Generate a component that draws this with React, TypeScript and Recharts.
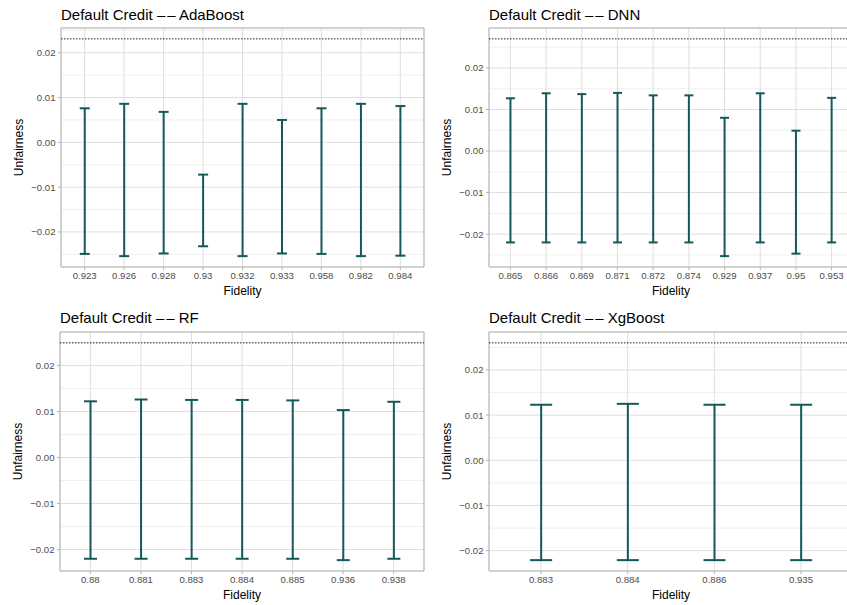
import React from "react";
import {
  ComposedChart,
  Bar,
  XAxis,
  YAxis,
  CartesianGrid,
  ReferenceLine,
  ReferenceArea,
} from "recharts";

// ─── data ───
const adaFidelity = ["0.923", "0.926", "0.928", "0.93", "0.932", "0.933", "0.958", "0.982", "0.984"];
const adaLow = [-0.0249, -0.0254, -0.0248, -0.0232, -0.0254, -0.0248, -0.0249, -0.0254, -0.0253];
const adaHigh = [0.0076, 0.0086, 0.0068, -0.0072, 0.0086, 0.005, 0.0076, 0.0086, 0.0081];
const adaBaseline = 0.0231;

const dnnFidelity = ["0.865", "0.866", "0.869", "0.871", "0.872", "0.874", "0.929", "0.937", "0.95", "0.953"];
const dnnLow = [-0.022, -0.022, -0.022, -0.022, -0.022, -0.022, -0.0253, -0.022, -0.0247, -0.022];
const dnnHigh = [0.0127, 0.0139, 0.0137, 0.014, 0.0134, 0.0134, 0.008, 0.0139, 0.0049, 0.0128];
const dnnBaseline = 0.027;

const rfFidelity = ["0.88", "0.881", "0.883", "0.884", "0.885", "0.936", "0.938"];
const rfLow = [-0.022, -0.022, -0.022, -0.022, -0.022, -0.0223, -0.022];
const rfHigh = [0.0122, 0.0126, 0.0125, 0.0125, 0.0124, 0.0103, 0.0121];
const rfBaseline = 0.0249;

const xgbFidelity = ["0.883", "0.884", "0.886", "0.935"];
const xgbLow = [-0.0221, -0.0221, -0.0221, -0.0221];
const xgbHigh = [0.0123, 0.0125, 0.0123, 0.0123];
const xgbBaseline = 0.026;

const MAJOR_TICKS = [-0.02, -0.01, 0, 0.01, 0.02];
const MINOR_TICKS = [-0.025, -0.015, -0.005, 0.005, 0.015, 0.025];

const BAR_COLOR = "#14585b";
const FONT = "'Liberation Sans', Arial, Helvetica, sans-serif";

const fmtY = (v: number) => {
  const s = Math.abs(v).toFixed(2);
  return v < -1e-9 ? "\u2212" + s : s;
};

const ErrorBarShape = (props: any) => {
  const { x, y, width, height } = props;
  if (x == null || y == null) return null;
  const cx = x + width / 2;
  const top = Math.min(y, y + height);
  const bottom = Math.max(y, y + height);
  return (
    <g stroke={BAR_COLOR} strokeWidth={2}>
      <line x1={cx} x2={cx} y1={top} y2={bottom} />
      <line x1={x} x2={x + width} y1={top} y2={top} />
      <line x1={x} x2={x + width} y1={bottom} y2={bottom} />
    </g>
  );
};

interface PanelProps {
  model: string;
  fidelity: string[];
  low: number[];
  high: number[];
  baseline: number;
  left: number;
  top: number;
  width: number;
  height: number;
  marginTop: number;
  marginRight: number;
  yAxisWidth: number;
  xAxisHeight: number;
  titleTop: number;
  xLabelOffset: number;
}

function Panel({
  model,
  fidelity,
  low,
  high,
  baseline,
  left,
  top,
  width,
  height,
  marginTop,
  marginRight,
  yAxisWidth,
  xAxisHeight,
  titleTop,
  xLabelOffset,
}: PanelProps) {
  const n = fidelity.length;
  const data = fidelity.map((f, i) => ({ pos: i + 1, fidelity: f, range: [low[i], high[i]] }));
  const positions = data.map((d) => d.pos);

  // ggplot-style 5% expansion
  const lo = Math.min(...low, baseline);
  const hi = Math.max(...high, baseline);
  const pad = (hi - lo) * 0.05;
  const yDomain: [number, number] = [lo - pad, hi + pad];
  const xDomain: [number, number] = [0.4, n + 0.6];
  const minor = MINOR_TICKS.filter((v) => v > yDomain[0] && v < yDomain[1]);

  const tickStyle = { fontSize: 9.6, fill: "#4d4d4d", fontFamily: FONT };

  return (
    <div style={{ position: "absolute", left, top, width, height }}>
      <div
        style={{
          position: "absolute",
          left: yAxisWidth,
          top: titleTop,
          fontSize: 15,
          lineHeight: "15px",
          fontFamily: FONT,
          color: "#000",
          whiteSpace: "nowrap",
        }}
      >
        Default Credit <span style={{ letterSpacing: 2 }}>–</span>– {model}
      </div>
      <ComposedChart
        width={width}
        height={height}
        data={data}
        margin={{ top: marginTop, right: marginRight, bottom: 0, left: 0 }}
        barCategoryGap="37.5%"
      >
        <CartesianGrid
          horizontalValues={minor}
          vertical={false}
          stroke="#ebebeb"
          strokeWidth={0.8}
        />
        <CartesianGrid stroke="#dedede" strokeWidth={1} />
        <XAxis
          type="number"
          dataKey="pos"
          domain={xDomain}
          ticks={positions}
          interval={0}
          allowDataOverflow
          height={xAxisHeight}
          tickFormatter={(v: number) => fidelity[v - 1]}
          tick={tickStyle}
          tickSize={3}
          tickMargin={2}
          tickLine={{ stroke: "#b3b3b3" }}
          axisLine={false}
          label={{
            value: "Fidelity",
            position: "insideBottom",
            offset: xLabelOffset,
            style: { fontSize: 12, fill: "#000", fontFamily: FONT },
          }}
        />
        <YAxis
          type="number"
          domain={yDomain}
          ticks={MAJOR_TICKS}
          allowDataOverflow
          width={yAxisWidth}
          tickFormatter={fmtY}
          tick={tickStyle}
          tickSize={3}
          tickMargin={2.5}
          tickLine={{ stroke: "#b3b3b3" }}
          axisLine={false}
          label={{
            value: "Unfairness",
            angle: -90,
            position: "insideLeft",
            offset: yAxisWidth - 42,
            style: { fontSize: 12, fill: "#000", fontFamily: FONT, textAnchor: "middle" },
          }}
        />
        <Bar dataKey="range" shape={ErrorBarShape} isAnimationActive={false} />
        <ReferenceLine
          y={baseline}
          stroke="#222"
          strokeWidth={1}
          strokeDasharray="1.5 1.5"
        />
        <ReferenceArea
          x1={xDomain[0]}
          x2={xDomain[1]}
          y1={yDomain[0]}
          y2={yDomain[1]}
          fill="none"
          fillOpacity={0}
          stroke="#b3b3b3"
          strokeWidth={1}
        />
      </ComposedChart>
    </div>
  );
}

export default function App() {
  return (
    <div
      style={{
        position: "absolute",
        left: 0,
        top: 0,
        width: 847,
        height: 605,
        overflow: "hidden",
        background: "#fff",
      }}
    >
      <Panel
        model="AdaBoost"
        fidelity={adaFidelity}
        low={adaLow}
        high={adaHigh}
        baseline={adaBaseline}
        left={0}
        top={0}
        width={430}
        height={300}
        marginTop={28}
        marginRight={6}
        yAxisWidth={61}
        xAxisHeight={33}
        titleTop={7}
        xLabelOffset={5}
      />
      <Panel
        model="DNN"
        fidelity={dnnFidelity}
        low={dnnLow}
        high={dnnHigh}
        baseline={dnnBaseline}
        left={425}
        top={0}
        width={430}
        height={300}
        marginTop={28}
        marginRight={2}
        yAxisWidth={64}
        xAxisHeight={33}
        titleTop={7}
        xLabelOffset={5}
      />
      <Panel
        model="RF"
        fidelity={rfFidelity}
        low={rfLow}
        high={rfHigh}
        baseline={rfBaseline}
        left={0}
        top={300}
        width={430}
        height={305}
        marginTop={32}
        marginRight={6}
        yAxisWidth={60}
        xAxisHeight={34}
        titleTop={10.3}
        xLabelOffset={6.5}
      />
      <Panel
        model="XgBoost"
        fidelity={xgbFidelity}
        low={xgbLow}
        high={xgbHigh}
        baseline={xgbBaseline}
        left={425}
        top={300}
        width={430}
        height={305}
        marginTop={32}
        marginRight={2}
        yAxisWidth={64}
        xAxisHeight={34}
        titleTop={10.3}
        xLabelOffset={6.5}
      />
    </div>
  );
}
